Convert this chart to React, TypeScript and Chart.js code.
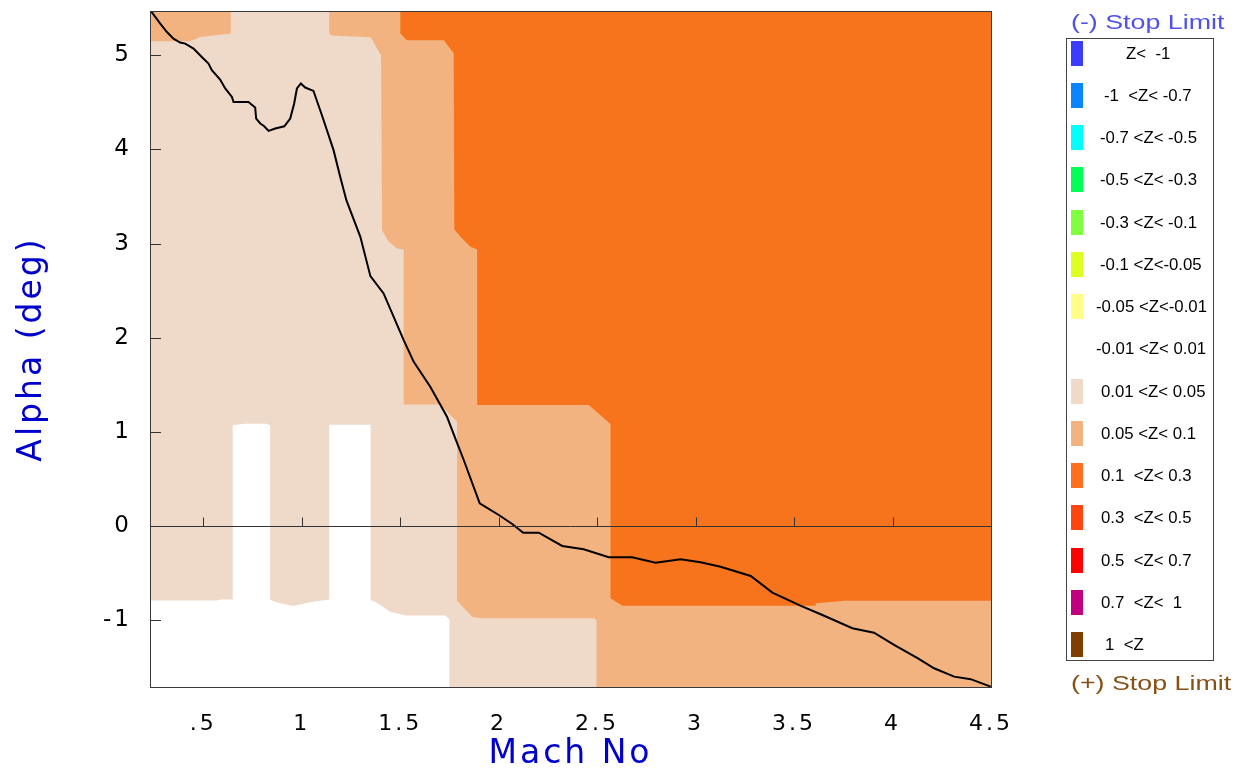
import React, { useEffect, useRef } from "react";
import { Chart, registerables } from "chart.js";
Chart.register(...registerables);

// Axis ranges and ticks
const X_MIN = 0.23;
const X_MAX = 4.5;
const Y_MIN = -1.71;
const Y_MAX = 5.47;
const xTickValues = [0.5, 1, 1.5, 2, 2.5, 3, 3.5, 4, 4.5];
const xTickLabels = [".5", "1", "1.5", "2", "2.5", "3", "3.5", "4", "4.5"];
const yTickValues = [-1, 0, 1, 2, 3, 4, 5];

// Zone boundaries (Mach, Alpha)
const zonePale: number[][] = [
  [0.23, -1.71], [0.23, 5.47], [4.5, 5.47], [4.5, -1.71],
];
const zoneWhite: number[][] = [
  [0.23, -1.71], [0.23, -0.79], [0.57, -0.79], [0.59, -0.78], [0.65, -0.78],
  [0.65, 1.07], [0.71, 1.085], [0.82, 1.085], [0.84, 1.07], [0.84, -0.78],
  [0.87, -0.81], [0.96, -0.85], [1.04, -0.81], [1.14, -0.78], [1.14, 1.075],
  [1.35, 1.075], [1.35, -0.79], [1.36, -0.79], [1.40, -0.84], [1.45, -0.91],
  [1.53, -0.95], [1.73, -0.95], [1.75, -0.99], [1.75, -1.71],
];
const zoneLightCorner: number[][] = [
  [0.23, 5.47], [0.23, 5.15], [0.43, 5.15], [0.475, 5.18], [0.475, 5.19],
  [0.64, 5.23], [0.64, 5.47],
];
const zoneLight: number[][] = [
  [1.14, 5.47], [1.14, 5.23], [1.154, 5.21], [1.35, 5.19], [1.403, 5.0],
  [1.408, 3.142], [1.442, 3.018], [1.485, 2.947], [1.518, 2.937], [1.518, 1.29],
  [1.704, 1.29], [1.746, 1.195], [1.789, 1.11], [1.789, -0.79], [1.865, -0.963],
  [1.908, -0.98], [2.483, -0.98], [2.497, -1.0], [2.497, -1.71], [4.5, -1.71],
  [4.5, 5.47],
];
const zoneOrange: number[][] = [
  [1.501, 5.47], [1.501, 5.23], [1.535, 5.16], [1.721, 5.16], [1.772, 5.02],
  [1.775, 3.15], [1.806, 3.071], [1.857, 2.965], [1.891, 2.937], [1.891, 1.285],
  [2.458, 1.285], [2.568, 1.083], [2.568, -0.768], [2.628, -0.846], [3.61, -0.846],
  [3.61, -0.821], [3.701, -0.804], [3.752, -0.793], [4.5, -0.793], [4.5, 5.47],
];

// Trim line
const curveMach = [
  0.236, 0.282, 0.316, 0.349, 0.383, 0.409, 0.451, 0.493, 0.527, 0.544, 0.586, 0.612,
  0.646, 0.654, 0.73, 0.764, 0.769, 0.79, 0.81, 0.832, 0.866, 0.912, 0.942, 0.962,
  0.976, 0.996, 1.018, 1.06, 1.103, 1.162, 1.196, 1.227, 1.298, 1.349, 1.416, 1.518,
  1.569, 1.653, 1.738, 1.78, 1.823, 1.904, 2.001, 2.069, 2.125, 2.204, 2.323, 2.432,
  2.559, 2.678, 2.797, 2.924, 3.025, 3.127, 3.28, 3.39, 3.535, 3.644, 3.796, 3.906,
  4.008, 4.127, 4.211, 4.313, 4.397, 4.499,
];
const curveAlpha = [
  5.467, 5.337, 5.247, 5.177, 5.135, 5.124, 5.071, 4.982, 4.912, 4.841, 4.742, 4.647,
  4.557, 4.504, 4.504, 4.445, 4.328, 4.275, 4.246, 4.196, 4.222, 4.246, 4.328, 4.487,
  4.647, 4.7, 4.657, 4.621, 4.363, 3.992, 3.708, 3.461, 3.071, 2.654, 2.47, 1.975,
  1.744, 1.479, 1.16, 0.931, 0.701, 0.241, 0.117, 0.021, -0.071, -0.071, -0.212, -0.247,
  -0.332, -0.332, -0.39, -0.354, -0.385, -0.432, -0.531, -0.708, -0.849, -0.945, -1.086, -1.133,
  -1.263, -1.404, -1.511, -1.6, -1.627, -1.706,
];

// Legend
const legendLabels = [
  "Z<  -1", "-1  <Z< -0.7", "-0.7 <Z< -0.5", "-0.5 <Z< -0.3", "-0.3 <Z< -0.1",
  "-0.1 <Z<-0.05", "-0.05 <Z<-0.01", "-0.01 <Z< 0.01", "0.01 <Z< 0.05", "0.05 <Z< 0.1",
  "0.1  <Z< 0.3", "0.3  <Z< 0.5", "0.5  <Z< 0.7", "0.7  <Z<  1", "1  <Z",
];
const legendColors = [
  "#3C3CFF", "#0A84FF", "#00FFFF", "#00FF55", "#80FF40",
  "#DDFF22", "#FFFF88", "#FFFFFF", "#EFD9C9", "#F3B381",
  "#FF6F1F", "#FF4510", "#FF0000", "#C0007F", "#7F3F00",
];
const legendTextLeft = [1126, 1104, 1100, 1100, 1100, 1100, 1096, 1096, 1101, 1101, 1101, 1101, 1101, 1101, 1105];

const PALE = "#EFD9C9";
const LIGHT = "#F3B381";
const ORANGE = "#F8741C";
const WHITE = "#FFFFFF";

const toPts = (arr: number[][]) => arr.map(([x, y]) => ({ x, y }));

const decorPlugin = {
  id: "decor",
  beforeDraw(chart: any) {
    chart.ctx.letterSpacing = "3px";
  },
  afterDatasetsDraw(chart: any) {
    const { ctx, chartArea: a, scales } = chart;
    const x = scales.x;
    const y = scales.y;
    ctx.save();
    ctx.strokeStyle = "#333333";
    ctx.lineWidth = 1;
    const y0 = Math.round(y.getPixelForValue(0)) + 0.5;
    ctx.beginPath();
    ctx.moveTo(a.left, y0);
    ctx.lineTo(a.right, y0);
    xTickValues.forEach((v) => {
      const px = Math.round(x.getPixelForValue(v)) + 0.5;
      if (px < a.right - 2) {
        ctx.moveTo(px, y0);
        ctx.lineTo(px, y0 - 9);
      }
    });
    yTickValues.forEach((v) => {
      const py = Math.round(y.getPixelForValue(v)) + 0.5;
      ctx.moveTo(a.left, py);
      ctx.lineTo(a.left + 11, py);
    });
    ctx.stroke();
    ctx.strokeStyle = "#3a3a3a";
    ctx.strokeRect(Math.round(a.left) + 0.5, Math.round(a.top) + 0.5, Math.round(a.right - a.left), Math.round(a.bottom - a.top));
    ctx.restore();
  },
};

export default function App() {
  const ref = useRef<HTMLCanvasElement | null>(null);
  useEffect(() => {
    if (!ref.current) return;
    const zone = (data: number[][], color: string, order: number) => ({
      data: toPts(data),
      backgroundColor: color,
      borderColor: "rgba(0,0,0,0)",
      borderWidth: 0,
      pointRadius: 0,
      fill: "shape",
      tension: 0,
      order,
    });
    const chart = new Chart(ref.current, {
      type: "line",
      data: {
        datasets: [
          {
            data: curveMach.map((m, i) => ({ x: m, y: curveAlpha[i] })),
            borderColor: "#000000",
            borderWidth: 2,
            pointRadius: 0,
            fill: false,
            tension: 0,
            order: 0,
          } as any,
          zone(zoneOrange, ORANGE, 1),
          zone(zoneLight, LIGHT, 2),
          zone(zoneLightCorner, LIGHT, 3),
          zone(zoneWhite, WHITE, 4),
          zone(zonePale, PALE, 5),
        ],
      },
      options: {
        responsive: false,
        animation: false,
        events: [],
        layout: { padding: { left: 0, top: 11, right: 251, bottom: 0 } },
        plugins: { legend: { display: false }, tooltip: { enabled: false } },
        scales: {
          x: {
            type: "linear",
            min: X_MIN,
            max: X_MAX,
            grid: { display: false, drawTicks: false },
            border: { display: false },
            afterBuildTicks: (s: any) => {
              s.ticks = xTickValues.map((v) => ({ value: v }));
            },
            afterFit: (s: any) => {
              s.height = 87;
              s.paddingLeft = 0;
              s.paddingRight = 0;
            },
            ticks: {
              autoSkip: false,
              maxRotation: 0,
              padding: 24,
              color: "#000000",
              font: { family: "DejaVu Sans", size: 22 },
              callback: (_v: any, i: number) => xTickLabels[i],
            },
            title: {
              display: true,
              text: "Mach No",
              color: "rgb(0,0,205)",
              font: { family: "DejaVu Sans", size: 33, lineHeight: 1.2 },
              padding: { top: 0, bottom: 0 },
            },
          },
          y: {
            type: "linear",
            min: Y_MIN,
            max: Y_MAX,
            grid: { display: false, drawTicks: false },
            border: { display: false },
            afterBuildTicks: (s: any) => {
              s.ticks = yTickValues.map((v) => ({ value: v }));
            },
            afterFit: (s: any) => {
              s.width = 150;
              s.paddingTop = 0;
              s.paddingBottom = 0;
            },
            ticks: {
              padding: 18,
              color: "#000000",
              font: { family: "DejaVu Sans", size: 23 },
            },
            title: {
              display: true,
              text: "Alpha (deg)",
              color: "rgb(0,0,205)",
              font: { family: "DejaVu Sans", size: 33, lineHeight: 1.2 },
              padding: { top: 13, bottom: 0 },
            },
          },
        },
      } as any,
      plugins: [decorPlugin],
    });
    return () => chart.destroy();
  }, []);

  const pitch = 42.23;
  const firstCenter = 53.3;
  return (
    <div style={{ position: "absolute", left: 0, top: 0, width: 1242, height: 774, background: "#fff", fontFamily: "'Liberation Sans', Arial, sans-serif" }}>
      <canvas ref={ref} width={1242} height={774} style={{ position: "absolute", left: 0, top: 0, width: 1242, height: 774 }} />
      <div style={{ position: "absolute", left: 1071, top: 11.5, fontSize: 20, lineHeight: "20px", color: "rgb(80,80,235)", whiteSpace: "pre", transform: "scaleX(1.34)", transformOrigin: "left center" }}>(-) Stop Limit</div>
      <div style={{ position: "absolute", left: 1066, top: 38, width: 148, height: 623, border: "1px solid #444", boxSizing: "border-box" }} />
      {legendLabels.map((lab, i) => {
        const c = firstCenter + i * pitch;
        return (
          <React.Fragment key={i}>
            <div style={{ position: "absolute", left: 1071, top: c - 12.5, width: 12, height: 25, background: legendColors[i] }} />
            <div style={{ position: "absolute", left: legendTextLeft[i], top: c - 8.5, fontSize: 16.8, lineHeight: "17px", color: "#000", whiteSpace: "pre" }}>{lab}</div>
          </React.Fragment>
        );
      })}
      <div style={{ position: "absolute", left: 1071, top: 672.5, fontSize: 20, lineHeight: "20px", color: "rgb(135,80,20)", whiteSpace: "pre", transform: "scaleX(1.34)", transformOrigin: "left center" }}>(+) Stop Limit</div>
    </div>
  );
}
